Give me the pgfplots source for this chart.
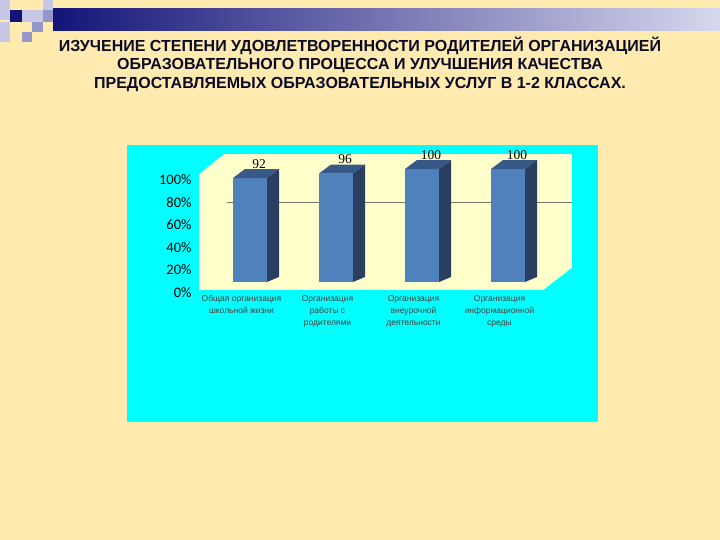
\documentclass[border=0pt]{standalone}
\usepackage{fontspec}
\setmainfont{Liberation Sans}
\newfontfamily\valfont{Liberation Serif}
\newfontfamily\tickfont{Carlito}
\usepackage{pgfplots}
\pgfplotsset{compat=1.18}

\definecolor{slidebg}{RGB}{255,235,176}
\definecolor{wallbg}{RGB}{255,255,204}
\definecolor{boxbg}{RGB}{0,255,255}
\definecolor{barfront}{RGB}{79,129,189}
\definecolor{barside}{RGB}{42,62,96}
\definecolor{bartop}{RGB}{56,88,136}
\definecolor{gridcol}{RGB}{120,120,104}
\definecolor{navy}{RGB}{20,20,120}
\definecolor{lav}{RGB}{200,200,230}
\definecolor{midlav}{RGB}{150,150,200}
\definecolor{banright}{RGB}{215,215,238}
\definecolor{titlecol}{RGB}{10,10,36}

% top and side faces of a 3D bar; \ry is the bar's value, 1.12957pt per unit
\pgfdeclareplotmark{prism}{%
  \pgfmathsetmacro\barh{\ry*1.12957}%
  \pgfsetfillcolor{bartop}%
  \pgfpathmoveto{\pgfpoint{-17pt}{0pt}}%
  \pgfpathlineto{\pgfpoint{-5pt}{9pt}}%
  \pgfpathlineto{\pgfpoint{29pt}{9pt}}%
  \pgfpathlineto{\pgfpoint{17pt}{0pt}}%
  \pgfpathclose\pgfusepath{fill}%
  \pgfsetfillcolor{barside}%
  \pgfpathmoveto{\pgfpoint{17pt}{0pt}}%
  \pgfpathlineto{\pgfpoint{29pt}{9pt}}%
  \pgfpathlineto{\pgfpoint{29pt}{5pt-\barh pt}}%
  \pgfpathlineto{\pgfpoint{17pt}{-\barh pt}}%
  \pgfpathclose\pgfusepath{fill}%
}

\begin{document}
\begin{tikzpicture}[x=1pt,y=1pt]
% slide background and corner decoration
\fill[slidebg] (0,0) rectangle (720,540);
\useasboundingbox (0,0) rectangle (720,540);
\fill[lav] (0,540) rectangle (10,520);
\fill[lav] (0,518) rectangle (10,498);
\fill[navy] (10,530) rectangle (22,518);
\fill[lav] (22,530) rectangle (43,518);
\fill[lav] (43,540) rectangle (53,530);
\fill[midlav] (43,530) rectangle (53,518);
\fill[midlav] (32,518) rectangle (43,508);
\fill[midlav] (22,508) rectangle (32,498);
\shade[left color=navy, right color=banright] (53,531) rectangle (720,509);

% title
\node[font=\bfseries\fontsize{16}{18.5}\selectfont, text=titlecol, align=center]
  at (360,476) {ИЗУЧЕНИЕ СТЕПЕНИ УДОВЛЕТВОРЕННОСТИ РОДИТЕЛЕЙ ОРГАНИЗАЦИЕЙ\\
  ОБРАЗОВАТЕЛЬНОГО ПРОЦЕССА И УЛУЧШЕНИЯ КАЧЕСТВА\\
  ПРЕДОСТАВЛЯЕМЫХ ОБРАЗОВАТЕЛЬНЫХ УСЛУГ В 1-2 КЛАССАХ.};

% chart box
\fill[boxbg] (127,395) rectangle (598,118);

\begin{axis}[
    at={(199pt,250pt)}, anchor=south west,
    scale only axis,
    width=373pt, height=136pt,
    xmin=-0.593, xmax=3.744,
    ymin=-7.1, ymax=113.3,
    clip=false,
    /pgf/number format/assume math mode=true,
    axis background/.style={fill=wallbg},
    axis line style={draw=none},
    tick style={draw=none},
    xtick={0,1,2,3},
    xticklabels={{Общая организация\\школьной жизни},
                 {Организация\\работы с\\родителями},
                 {Организация\\внеурочной\\деятельности},
                 {Организация\\информационной\\среды}},
    xticklabel style={font=\fontsize{8.5}{12}\selectfont, text=black!75,
                      align=center, xshift=-8.5pt, yshift=-2pt},
    ytick={0,20,...,100},
    yticklabel={\pgfmathprintnumber{\tick}\%},
    yticklabel style={font=\tickfont\fontsize{14.5}{14.5}\selectfont,
                      yshift=-10.5pt, xshift=-4pt},
    extra y ticks={80},
    extra y tick labels={},
    extra y tick style={grid=major,
        major grid style={draw=gridcol, line width=0.8pt,
                          yshift=-10.5pt, shorten <=28pt}},
]
% front faces
\addplot[ybar, bar width=34pt, fill=barfront, draw=none]
    coordinates {(0,92) (1,96) (2,100) (3,100)};
% top and side faces, value labels
\addplot[only marks, mark=prism,
    visualization depends on={rawy \as \ry},
    nodes near coords,
    every node near coord/.append style={font=\valfont\fontsize{13.5}{13.5}\selectfont,
        text=black, xshift=9pt, yshift=6pt},
] coordinates {(0,92) (1,96) (2,100) (3,100)};
\end{axis}

% 3D wall corners
\fill[boxbg] (198,387) -- (225,387) -- (198,365) -- cycle;
\fill[boxbg] (573,273) -- (573,249) -- (542,249) -- cycle;
\end{tikzpicture}
\end{document}
